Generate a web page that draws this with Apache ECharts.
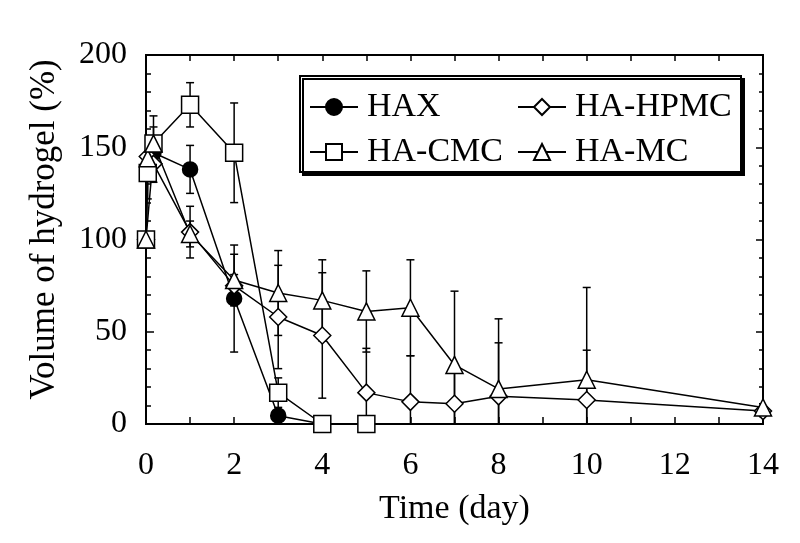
<!DOCTYPE html>
<html>
<head>
<meta charset="utf-8">
<script src="https://cdn.jsdelivr.net/npm/echarts@6/dist/echarts.min.js"></script>
<style>html,body{margin:0;padding:0;background:#fff}#c{width:800px;height:543px}</style>
</head>
<body>
<div id="c"></div>
<script>
// ---- data ----
const haxX  = [0, 0.17, 1, 2, 3, 4];
const haxY  = [100, 147, 138, 68, 4.5, 0];
const haxE  = [0, 8, 13, 29, 3, 0];

const hpmcX = [0, 0.04, 0.17, 1, 2, 3, 4, 5, 6, 7, 8, 10, 14];
const hpmcY = [100, 145, 141, 104, 75, 58, 48, 17, 12, 11, 15, 13, 7];
const hpmcE = [0, 10, 10, 14, 6, 28, 34, 24, 25, 18, 29, 27, 3];

const cmcX  = [0, 0.04, 0.17, 1, 2, 3, 4, 5];
const cmcY  = [100, 136, 152, 173, 147, 17, 0, 0];
const cmcE  = [0, 14, 15, 12, 27, 8, 0, 0];

const mcX   = [0, 0.04, 0.17, 1, 2, 3, 4, 5, 6, 7, 8, 10, 14];
const mcY   = [100, 144, 152, 103, 78, 71, 67, 61, 63, 32, 19, 24, 9];
const mcE   = [0, 8, 9, 7, 14, 23, 22, 22, 26, 40, 38, 50, 2];

const seriesNames = ['HAX', 'HA-HPMC', 'HA-CMC', 'HA-MC'];
const xTicks = [0, 2, 4, 6, 8, 10, 12, 14];
const yTicks = [0, 50, 100, 150, 200];

// ---- build ----
const FONT = '"Liberation Serif", "DejaVu Serif", serif';
function pts(xs, ys) { return xs.map((x, i) => [x, ys[i]]); }
function errs(xs, ys, es) { return xs.map((x, i) => [x, ys[i], es[i]]); }

function errRender(params, api) {
  const x = api.value(0), y = api.value(1), e = api.value(2);
  if (!e) return null;
  const lo = Math.max(0, y - e);
  const top = api.coord([x, y + e]);
  const bot = api.coord([x, lo]);
  const h = 4;
  const st = { stroke: '#000', lineWidth: 1.5 };
  const ch = [
    { type: 'line', shape: { x1: top[0], y1: top[1], x2: bot[0], y2: bot[1] }, style: st },
    { type: 'line', shape: { x1: top[0] - h, y1: top[1], x2: top[0] + h, y2: top[1] }, style: st }
  ];
  if (lo > 0) ch.push({ type: 'line', shape: { x1: bot[0] - h, y1: bot[1], x2: bot[0] + h, y2: bot[1] }, style: st });
  return { type: 'group', children: ch };
}

function lineSeries(name, data, symbol, size, fill) {
  return {
    name, type: 'line', data, symbol, symbolSize: size, showAllSymbol: true,
    xAxisIndex: 0, yAxisIndex: 0, z: 5,
    lineStyle: { color: '#000', width: 1.5 },
    itemStyle: { color: fill, borderColor: '#000', borderWidth: 1.5 },
    emphasis: { disabled: true }
  };
}
function errSeries(data) {
  return { type: 'custom', data, renderItem: errRender, xAxisIndex: 0, yAxisIndex: 0, z: 3, clip: true, silent: true };
}

function tickAxis(kind, pos, min, max, interval, len, extra) {
  return Object.assign({
    type: 'value', min, max, interval, position: pos,
    axisLine: { show: true, onZero: false, lineStyle: { color: '#000', width: 2 } },
    splitLine: { show: false },
    axisTick: { show: true, inside: true, length: len, lineStyle: { color: '#000', width: 1.5 } },
    minorTick: { show: false },
    axisLabel: { show: false }
  }, extra || {});
}

const option = {
  animation: false,
  backgroundColor: '#fff',
  grid: { left: 146, right: 37, top: 55, bottom: 119, containLabel: false },
  xAxis: [
    tickAxis('x', 'bottom', 0, 14, 1, 7, {
      axisLabel: { show: true, color: '#000', fontFamily: FONT, fontSize: 32, margin: 26,
        formatter: v => xTicks.includes(v) ? String(v) : '' },
      name: 'Time (day)', nameLocation: 'middle', nameGap: 68,
      nameTextStyle: { color: '#000', fontFamily: FONT, fontSize: 34 }
    }),
    tickAxis('x', 'top', 0, 14, 1, 6)
  ],
  yAxis: [
    tickAxis('y', 'left', 0, 200, 50, 8, {
      axisLabel: { show: true, color: '#000', fontFamily: FONT, fontSize: 32, margin: 19,
        padding: [0, 0, 12, 0],
        formatter: v => yTicks.includes(v) ? String(v) : '' },
      name: 'Volume of hydrogel (%)', nameLocation: 'middle', nameGap: 84,
      nameTextStyle: { color: '#000', fontFamily: FONT, fontSize: 35, padding: [0, 0, 0, 20] }
    }),
    tickAxis('y', 'left', 0, 200, 10, 5),
    tickAxis('y', 'right', 0, 200, 50, 7),
    tickAxis('y', 'right', 0, 200, 10, 4)
  ],
  legend: [
    {
      data: [seriesNames[0], seriesNames[2]], orient: 'vertical', left: 304, top: 84,
      itemWidth: 48, itemHeight: 20, itemGap: 9, selectedMode: false, z: 10,
      textStyle: { color: '#000', fontFamily: FONT, fontSize: 34, lineHeight: 36, padding: [0, 0, 0, 4] }
    },
    {
      data: [seriesNames[1], seriesNames[3]], orient: 'vertical', left: 512, top: 84,
      itemWidth: 48, itemHeight: 20, itemGap: 9, selectedMode: false, z: 10,
      textStyle: { color: '#000', fontFamily: FONT, fontSize: 34, lineHeight: 36, padding: [0, 0, 0, 4] }
    }
  ],
  graphic: [
    {
      type: 'rect', z: 8, left: 299, top: 75,
      shape: { width: 441, height: 96 },
      style: { fill: '#fff', stroke: '#000', lineWidth: 2,
        shadowColor: '#000', shadowOffsetX: 3, shadowOffsetY: 3, shadowBlur: 0 }
    }
  ],
  series: [
    errSeries(errs(haxX, haxY, haxE)),
    errSeries(errs(hpmcX, hpmcY, hpmcE)),
    errSeries(errs(cmcX, cmcY, cmcE)),
    errSeries(errs(mcX, mcY, mcE)),
    lineSeries(seriesNames[0], pts(haxX, haxY), 'circle', 15, '#000'),
    lineSeries(seriesNames[1], pts(hpmcX, hpmcY), 'diamond', 17, '#fff'),
    lineSeries(seriesNames[2], pts(cmcX, cmcY), 'rect', 17, '#fff'),
    lineSeries(seriesNames[3], pts(mcX, mcY), 'triangle', 17, '#fff')
  ]
};

const chart = echarts.init(document.getElementById('c'), null, { renderer: 'canvas' });
chart.setOption(option);
</script>
</body>
</html>
